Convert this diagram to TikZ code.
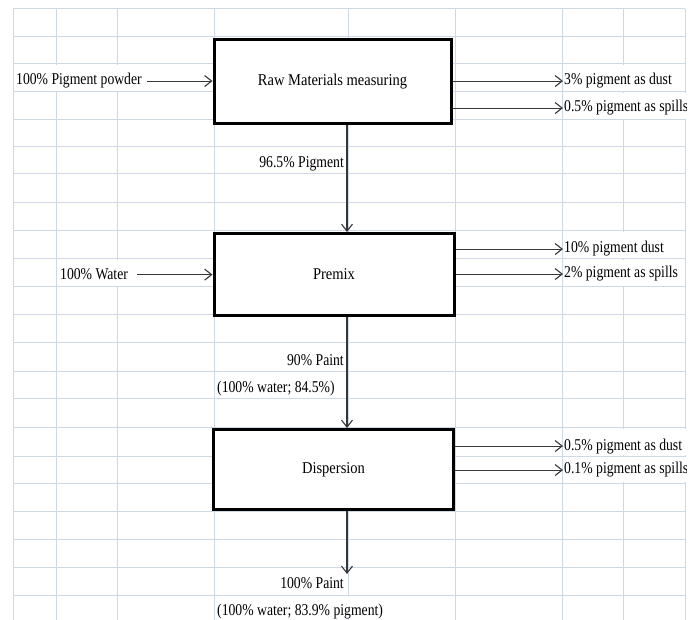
\documentclass[tikz,border=0pt]{standalone}
\usepackage{fontspec}
\usepackage{graphicx}
\setmainfont{Liberation Serif}
\usetikzlibrary{arrows.meta}
\definecolor{gridc}{RGB}{208,215,229}
\definecolor{arrc}{RGB}{55,55,55}
\newcommand{\tx}[1]{\scalebox{0.83}[1]{\fontsize{16.5}{18}\selectfont #1}}
\newcommand{\bx}[1]{\scalebox{0.88}[1]{\fontsize{16.5}{18}\selectfont #1}}
\begin{document}
\begin{tikzpicture}[x=1pt,y=-1pt,
  lbl/.style={inner sep=1pt},
  proc/.style={draw=black, line width=3pt, fill=white, inner sep=0pt},
  flow/.style={draw=arrc, line width=1.1pt, -{Straight Barb[length=7pt,width=11pt]}}]
\useasboundingbox (0,0) rectangle (694,620);
% spreadsheet grid
\foreach \y in {9,37,64,92,120,147,174,203,231,259,287,315,343,372,399,428,456,483,511,539,567,595}
  \draw[gridc, line width=1pt] (13,\y) -- (685,\y);
\foreach \x in {13,56,117,214,348,455,562,623,685}
  \draw[gridc, line width=1pt] (\x,9) -- (\x,620);
% grid lines hidden by overflowing cell text
\foreach \x/\a/\b in {56/64/92,117/64/92,623/64/92,623/92/120,685/92/120,623/231/259,117/259/287,623/259/287,623/428/456,685/428/456,623/456/483,685/456/483,348/595/620}
  \fill[white] (\x-1,\a+0.6) rectangle (\x+1,\b-0.6);
% process boxes
\node[proc, minimum width=237pt, minimum height=84pt] (b1) at (332.5,82) {\bx{Raw Materials measuring}};
\node[proc, minimum width=240pt, minimum height=82pt] (b2) at (334,274.5) {\bx{Premix}};
\node[proc, minimum width=240pt, minimum height=80pt] (b3) at (333.5,469.5) {\bx{Dispersion}};
% inputs
\node[lbl, anchor=base west] (in1) at (15,85) {\tx{100\% Pigment powder}};
\node[lbl, anchor=base west] (in2) at (59,280) {\tx{100\% Water}};
\draw[flow, shorten <=4pt] (in1.east) -- (in1.east -| b1.west);
\draw[flow, shorten <=8pt] (in2.east) -- (in2.east -| b2.west);
% main flow
\coordinate (cx) at (347,0);
\coordinate (endp) at (347,574);
\draw[flow] (b1.south -| cx) -- (b2.north -| cx);
\draw[flow] (b2.south -| cx) -- (b3.north -| cx);
\draw[flow] (b3.south -| cx) -- (endp);
\node[lbl, anchor=base east] (l1) at (345,168) {\tx{96.5\% Pigment}};
\node[lbl, anchor=base east] (l2) at (345,366) {\tx{90\% Paint}};
\node[lbl, anchor=base west] (l3) at (216,393) {\tx{(100\% water; 84.5\%)}};
\node[lbl, anchor=base east] (l4) at (345,588) {\tx{100\% Paint}};
\node[lbl, anchor=base west] (l5) at (216,615) {\tx{(100\% water; 83.9\% pigment)}};
% outputs
\begin{scope}
\clip (0,0) rectangle (686,620);
\node[lbl, anchor=base west] (o1) at (563,85) {\tx{3\% pigment as dust}};
\node[lbl, anchor=base west] (o2) at (563,112) {\tx{0.5\% pigment as spills}};
\node[lbl, anchor=base west] (o3) at (563,253) {\tx{10\% pigment dust}};
\node[lbl, anchor=base west] (o4) at (563,278) {\tx{2\% pigment as spills}};
\node[lbl, anchor=base west] (o5) at (563,450) {\tx{0.5\% pigment as dust}};
\node[lbl, anchor=base west] (o6) at (563,474) {\tx{0.1\% pigment as spills}};
\end{scope}
\draw[flow] (o1.west -| b1.east) -- (o1.west);
\draw[flow] (o2.west -| b1.east) -- (o2.west);
\draw[flow] (o3.west -| b2.east) -- (o3.west);
\draw[flow] (o4.west -| b2.east) -- (o4.west);
\draw[flow] (o5.west -| b3.east) -- (o5.west);
\draw[flow] (o6.west -| b3.east) -- (o6.west);
\end{tikzpicture}
\end{document}
